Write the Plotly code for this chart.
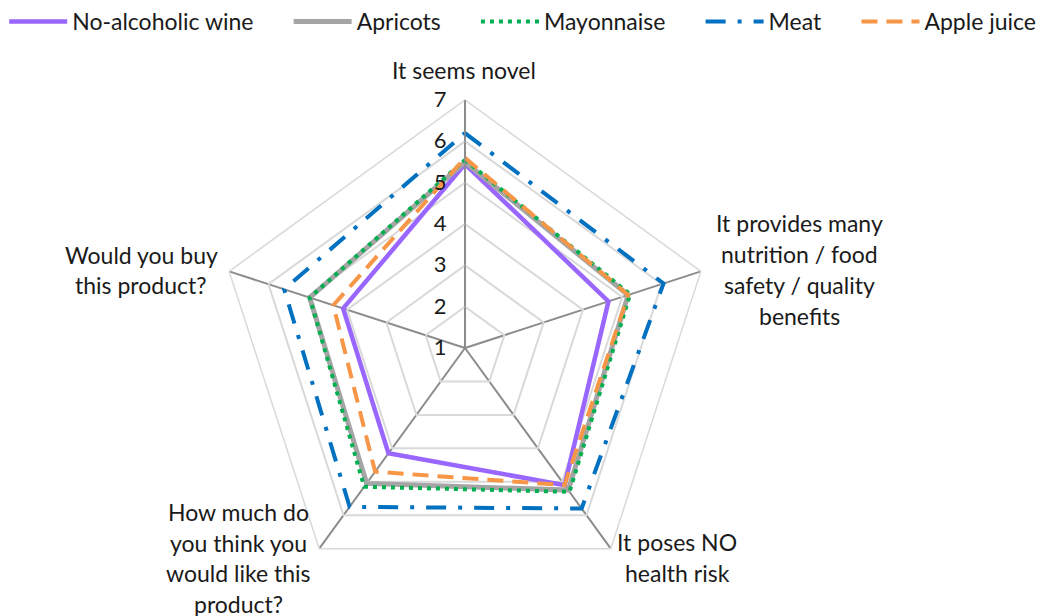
import plotly.graph_objects as go

# Survey dimensions (clockwise from the top)
categories = [
    "It seems novel",
    "It provides many nutrition / food safety / quality benefits",
    "It poses NO health risk",
    "How much do you think you would like this product?",
    "Would you buy this product?",
]
# Wrapped label lines for each dimension
category_lines = [
    ["It seems novel"],
    ["It provides many", "nutrition / food", "safety / quality", "benefits"],
    ["It poses NO", "health risk"],
    ["How much do", "you think you", "would like this", "product?"],
    ["Would you buy", "this product?"],
]

series_names = ["No-alcoholic wine", "Apricots", "Mayonnaise", "Meat", "Apple juice"]
wine = [5.45, 4.65, 5.1, 4.15, 4.1]
apricots = [5.5, 5.15, 5.25, 5.05, 4.95]
mayonnaise = [5.55, 5.2, 5.3, 5.15, 4.95]
meat = [6.2, 6.05, 5.8, 5.75, 5.6]
apple_juice = [5.6, 5.15, 5.1, 4.7, 4.35]

radial_ticks = [1, 2, 3, 4, 5, 6, 7]

FONT = "Lato"
FS = 23
W, H = 1048, 616
CX, CY, R = 465, 348, 248  # plot centre and outer radius in pixels
LEGEND_PAD = "\u2003\u2002\u200a"  # extra room between legend entries

styles = [
    dict(color="#9966FF", width=4.5, dash="solid"),
    dict(color="#A5A5A5", width=5, dash="solid"),
    dict(color="#00B050", width=4, dash="4px,5px"),
    dict(color="#0070C0", width=4, dash="20px,12px,4px,12px"),
    dict(color="#F79646", width=4, dash="16px,9px"),
]
values = [wine, apricots, mayonnaise, meat, apple_juice]

fig = go.Figure()
for i, (name, vals, st) in enumerate(zip(series_names, values, styles)):
    pad = LEGEND_PAD if i < len(series_names) - 1 else ""
    fig.add_trace(go.Scatterpolar(
        r=vals + vals[:1],
        theta=categories + categories[:1],
        mode="lines",
        name=name + pad,
        line=st,
        hoverinfo="skip",
    ))

# Category labels around the chart: (centre x px, first line centre y px, line step px)
label_pos = [
    (464, 70, 31),
    (799, 223, 31),
    (677, 542, 31),
    (238, 512, 30.5),
    (141, 255, 30),
]
annotations = []
for lines, (lx, ly, step) in zip(category_lines, label_pos):
    for i, txt in enumerate(lines):
        annotations.append(dict(
            x=lx / W, y=1 - (ly + i * step) / H, xref="paper", yref="paper",
            text=txt, showarrow=False, xanchor="center", yanchor="middle",
            font=dict(family=FONT, size=FS, color="#1a1a1a"),
        ))

fig.update_layout(
    width=W, height=H,
    margin=dict(l=0, r=0, t=0, b=0),
    paper_bgcolor="white",
    font=dict(family=FONT, size=FS, color="#1a1a1a"),
    showlegend=True,
    legend=dict(
        orientation="h", x=0.004, y=1.0, xanchor="left", yanchor="top",
        font=dict(family=FONT, size=FS, color="#1a1a1a"),
        itemwidth=58, bgcolor="rgba(0,0,0,0)",
    ),
    polar=dict(
        domain=dict(x=[(CX - R) / W, (CX + R) / W], y=[(H - CY - R) / H, (H - CY + R) / H]),
        gridshape="linear",
        bgcolor="white",
        radialaxis=dict(
            range=[1, 7], tickvals=radial_ticks, angle=90, tickangle=90,
            side="counterclockwise",
            showline=True, linecolor="#8c8c8c", linewidth=1.5,
            gridcolor="#d9d9d9", gridwidth=1.5,
            ticks="outside", ticklen=10, tickcolor="rgba(0,0,0,0)",
            tickfont=dict(family=FONT, size=22, color="#1a1a1a"),
        ),
        angularaxis=dict(
            direction="clockwise", rotation=90, showticklabels=False, ticks="",
            gridcolor="#8c8c8c", gridwidth=1.5,
            showline=True, linecolor="#d9d9d9", linewidth=1.5,
        ),
    ),
    annotations=annotations,
)

fig.write_html("out.html")
